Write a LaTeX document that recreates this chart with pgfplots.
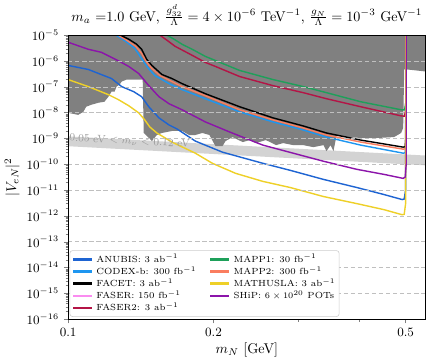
\documentclass[border=0pt]{standalone}
\usepackage{pgfplots}
\pgfplotsset{compat=1.18}
\definecolor{anubis}{RGB}{30,100,210}
\definecolor{codexb}{RGB}{30,150,240}
\definecolor{faser}{RGB}{250,140,240}
\definecolor{faserii}{RGB}{180,20,70}
\definecolor{mappi}{RGB}{30,160,90}
\definecolor{mappii}{RGB}{250,125,95}
\definecolor{mathusla}{RGB}{238,208,40}
\definecolor{ship}{RGB}{140,20,170}
\definecolor{excl}{RGB}{128,128,128}
\definecolor{band}{RGB}{211,211,211}
\begin{document}
\begin{tikzpicture}
\begin{axis}[
  scale only axis, width=253pt, height=201pt,
  xmode=log, ymode=log,
  xmin=0.1, xmax=0.55, ymin=1e-16, ymax=1e-5,
  xtick={0.1,0.2,0.5}, xticklabels={0.1,0.2,0.5},
  minor xtick={0.3,0.4},
  ytickten={-16,-15,...,-5},
  ymajorgrids, major grid style={densely dashed, black!25, line width=0.35pt},
  xtick pos=bottom, ytick pos=left, tick align=outside,
  major tick length=3pt, minor tick length=1.8pt,
  axis line style={line width=0.6pt},
  axis on top,
  tick label style={font=\small},
  title={$m_a$ =1.0 GeV, $\frac{g^{d}_{32}}{\Lambda} = 4\times10^{-6}$ TeV$^{-1}$, $\frac{g_N}{\Lambda} = 10^{-3}$ GeV$^{-1}$},
  title style={yshift=-3pt},
  xlabel={$m_N$ [GeV]},
  ylabel={$|V_{eN}|^2$},
  xlabel style={yshift=3pt},
  ylabel style={yshift=-2pt},
  legend columns=2, legend cell align=left,
  legend image code/.code={\fill[#1, sharp corners] (0cm,-0.6pt) rectangle (0.45cm,0.6pt);},
  legend style={at={(0.004,0.008)}, anchor=south west,
    font=\fontsize{6.3}{7}\selectfont, draw=black!20, rounded corners=2pt,
    fill=white, row sep=0pt,
    nodes={inner sep=0.6pt, sharp corners},
    /tikz/every odd column/.append style={column sep=3pt},
    /tikz/every even column/.append style={column sep=9pt}, inner sep=2pt},
]
% seesaw band
\addplot[fill=band, draw=none, forget plot] coordinates {
  (0.1,1.2e-9) (0.56,2.14e-10) (0.56,8.93e-11) (0.1,5e-10)} -- cycle;
% excluded region
\addplot[fill=excl, draw=none, forget plot] coordinates {
 (0.1,1e-4) (0.1,9.82e-9) (0.1049,8.20e-9) (0.1075,1.07e-8) (0.1090,1.69e-8)
 (0.1117,2.02e-8) (0.1155,2.41e-8) (0.1189,2.64e-8) (0.1212,4.14e-8) (0.1230,6.49e-8)
 (0.1248,6.49e-8) (0.1260,1.02e-7) (0.1278,1.22e-7) (0.1291,1.60e-7) (0.1322,1.91e-7)
 (0.1427,1.91e-7) (0.1434,1.63e-9) (0.1469,1.04e-9) (0.1491,7.91e-10) (0.1527,1.36e-9)
 (0.1564,1.63e-9) (0.1641,1.95e-9) (0.1722,1.95e-9) (0.1781,1.36e-9) (0.1834,1.36e-9)
 (0.1897,1.63e-9) (0.1962,1.36e-9) (0.2019,5.05e-10) (0.2088,5.05e-10) (0.2118,7.91e-10)
 (0.2191,1.13e-9) (0.2299,7.23e-10) (0.2378,8.65e-10) (0.2447,6.61e-10) (0.2568,8.65e-10)
 (0.2695,5.52e-10) (0.2787,6.61e-10) (0.2924,5.52e-10) (0.3069,5.52e-10) (0.3221,4.61e-10)
 (0.3380,5.52e-10) (0.3428,3.22e-10) (0.3495,5.52e-10) (0.3544,3.22e-10) (0.3596,1.24e-9)
 (0.4037,1.04e-9) (0.4360,1.04e-9) (0.4732,1.13e-9) (0.4894,1.63e-9) (0.4942,2.55e-9)
 (0.4966,4.70e-7) (0.5037,4.70e-7) (0.5493,3.93e-7) (0.56,3.9e-7) (0.56,1e-4)} -- cycle;
% ANUBIS
\addplot[color=anubis, line width=1pt, forget plot] coordinates {
 (0.1,6.73e-7) (0.1101,4.70e-7) (0.1230,2.09e-7) (0.1291,1.02e-7) (0.1367,6.49e-8)
 (0.1420,4.14e-8) (0.1469,1.69e-8) (0.1542,6.27e-9) (0.1618,3.33e-9) (0.1681,2.33e-9)
 (0.1834,7.91e-10) (0.2088,2.94e-10) (0.2531,1.09e-10) (0.2883,5.83e-11) (0.3380,2.59e-11)
 (0.3960,1.26e-11) (0.4509,6.73e-12) (0.4918,4.30e-12) (0.4966,4.5e-12) (0.5000,1e-11) (0.5005,1e-4)};
% CODEX-b
\addplot[color=codexb, line width=1pt, forget plot] coordinates {
 (0.1230,1.71e-5) (0.1248,1.09e-5) (0.1315,5.83e-6) (0.1374,3.10e-6) (0.1414,1.38e-6)
 (0.1462,5.62e-7) (0.1512,2.74e-7) (0.1618,1.33e-7) (0.1722,7.78e-8) (0.1924,3.46e-8)
 (0.2266,1.07e-8) (0.2656,4.38e-9) (0.3069,2.13e-9) (0.3428,1.13e-9) (0.4037,5.52e-10)
 (0.4942,2.69e-10) (0.4990,2.8e-10) (0.5005,6e-10) (0.5005,1e-4)};
% MAPP2
\addplot[color=mappii, line width=1pt, forget plot] coordinates {
 (0.1242,1.71e-5) (0.1260,1.09e-5) (0.1322,6.38e-6) (0.1380,3.72e-6) (0.1420,1.98e-6)
 (0.1455,8.81e-7) (0.1491,5.14e-7) (0.1549,2.74e-7) (0.1625,1.75e-7) (0.1722,1.02e-7)
 (0.1924,4.53e-8) (0.2266,1.29e-8) (0.2656,5.24e-9) (0.3069,2.55e-9) (0.3428,1.36e-9)
 (0.4037,7.23e-10) (0.4942,3.85e-10) (0.4990,4e-10) (0.5005,8e-10) (0.5005,1e-4)};
% FACET
\addplot[color=black, line width=1pt, forget plot] coordinates {
 (0.1254,1.71e-5) (0.1272,1.09e-5) (0.1335,6.98e-6) (0.1387,4.45e-6) (0.1420,2.84e-6)
 (0.1455,1.15e-6) (0.1491,6.73e-7) (0.1564,3.00e-7) (0.1641,2.09e-7) (0.1722,1.33e-7)
 (0.1924,5.42e-8) (0.2266,1.69e-8) (0.2656,6.27e-9) (0.3069,3.05e-9) (0.3428,1.63e-9)
 (0.4037,8.65e-10) (0.4942,4.61e-10) (0.4990,4.8e-10) (0.5005,1e-9) (0.5005,1e-4)};
% FASER2
\addplot[color=faserii, line width=1pt, forget plot] coordinates {
 (0.1491,1.71e-5) (0.1549,1.0e-5) (0.1602,6.38e-6) (0.1665,3.72e-6) (0.1807,1.66e-6)
 (0.1924,8.81e-7) (0.2019,6.15e-7) (0.2266,2.50e-7) (0.2656,1.11e-7) (0.3069,5.93e-8)
 (0.3428,3.46e-8) (0.4037,1.69e-8) (0.4894,7.50e-9) (0.4975,7.3e-9) (0.5005,1.5e-8) (0.5005,1e-4)};
% MAPP1
\addplot[color=mappi, line width=1pt, forget plot] coordinates {
 (0.1542,1.71e-5) (0.1602,1.0e-5) (0.1657,6.98e-6) (0.1722,4.45e-6) (0.1807,2.84e-6)
 (0.1924,1.51e-6) (0.2088,8.05e-7) (0.2266,4.30e-7) (0.2656,1.91e-7) (0.3069,1.02e-7)
 (0.3428,5.93e-8) (0.4037,2.64e-8) (0.4894,1.29e-8) (0.4975,1.27e-8) (0.5005,2.5e-8) (0.5005,1e-4)};
% MATHUSLA
\addplot[color=mathusla, line width=1pt, forget plot] coordinates {
 (0.1,1.91e-7) (0.1101,1.02e-7) (0.1212,4.96e-8) (0.1272,3.16e-8) (0.1335,1.85e-8)
 (0.1400,9.82e-9) (0.1441,5.24e-9) (0.1476,2.79e-9) (0.1527,1.63e-9) (0.1602,9.48e-10)
 (0.1641,7.23e-10) (0.1834,2.69e-10) (0.1990,1.09e-10) (0.2223,4.45e-11) (0.2531,2.17e-11)
 (0.2883,1.26e-11) (0.3380,5.62e-12) (0.3960,3.00e-12) (0.4509,1.75e-12) (0.4918,1.11e-12)
 (0.4966,1.15e-12) (0.5000,3e-12) (0.5005,1e-4)};
% SHiP
\addplot[color=ship, line width=1pt, forget plot] coordinates {
 (0.1,5.33e-6) (0.1101,2.84e-6) (0.1172,2.17e-6) (0.1230,1.38e-6) (0.1278,9.64e-7)
 (0.1335,6.15e-7) (0.1400,3.28e-7) (0.1469,1.11e-7) (0.1542,4.14e-8) (0.1618,2.21e-8)
 (0.1722,1.29e-8) (0.1924,4.38e-9) (0.2160,1.78e-9) (0.2531,5.52e-10) (0.2924,2.69e-10)
 (0.3380,1.31e-10) (0.3960,6.38e-11) (0.4509,4.06e-11) (0.4942,2.84e-11) (0.4990,3.2e-11)
 (0.5014,1e-10) (0.5014,1e-4)};
\node[rotate=-3, text=black!40, font=\fontsize{7.5}{9}\selectfont] at (axis cs:0.1341,7.9e-10)
  {0.05 eV $< m_\nu <$ 0.12 eV};
% legend (column-wise order)
\addlegendimage{color=anubis}\addlegendentry{ANUBIS: 3 ab$^{-1}$}
\addlegendimage{color=mappi}\addlegendentry{MAPP1: 30 fb$^{-1}$}
\addlegendimage{color=codexb}\addlegendentry{CODEX-b: 300 fb$^{-1}$}
\addlegendimage{color=mappii}\addlegendentry{MAPP2: 300 fb$^{-1}$}
\addlegendimage{color=black}\addlegendentry{FACET: 3 ab$^{-1}$}
\addlegendimage{color=mathusla}\addlegendentry{MATHUSLA: 3 ab$^{-1}$}
\addlegendimage{color=faser}\addlegendentry{FASER: 150 fb$^{-1}$}
\addlegendimage{color=ship}\addlegendentry{SHiP: $6\times10^{20}$ POTs}
\addlegendimage{color=faserii}\addlegendentry{FASER2: 3 ab$^{-1}$}
\end{axis}
\end{tikzpicture}
\end{document}
